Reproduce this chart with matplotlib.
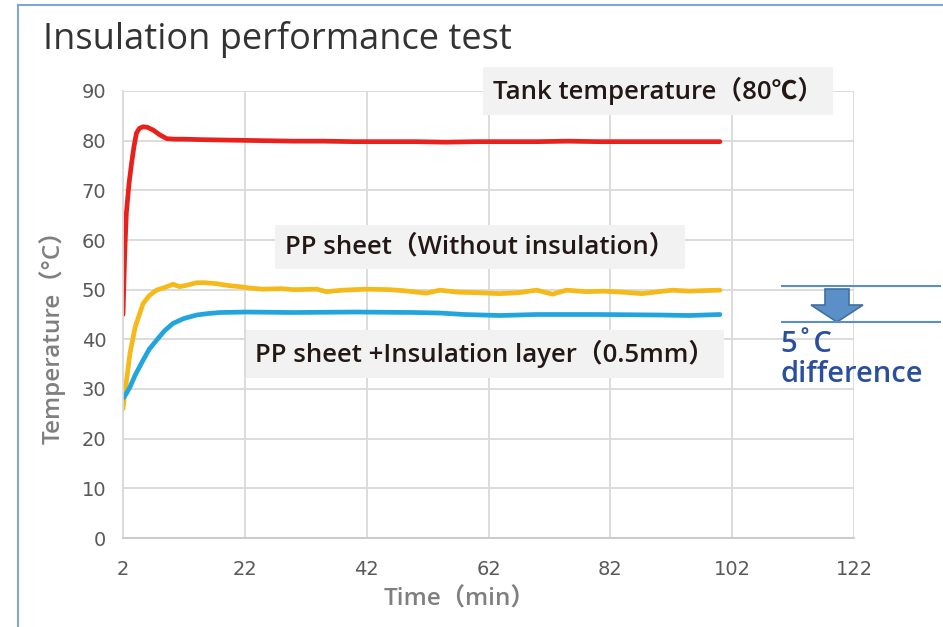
import matplotlib.pyplot as plt
from matplotlib.patches import Polygon
from matplotlib.lines import Line2D

# readings (minutes, deg C)
tank_t = [2, 2.3, 2.55, 3.0, 3.4, 3.8, 4.2, 4.7, 5.3, 6.0, 7.0, 8.0, 9.2, 10.5, 12, 15, 20,
          25, 30, 35, 40, 45, 50, 55, 60, 65, 70, 75, 80, 85, 90, 95, 100]
tank_v = [45, 58, 65.4, 71.5, 75.4, 78.8, 81.5, 82.5, 82.8, 82.7, 82.1, 81.2, 80.4, 80.3, 80.3, 80.2, 80.1,
          80.0, 79.9, 79.9, 79.8, 79.8, 79.8, 79.7, 79.8, 79.8, 79.8, 79.9, 79.8, 79.8, 79.8, 79.8, 79.8]

pp_t = [2, 2.5, 3.15, 4.0, 5.3, 6.3, 7.5, 9.0, 10.2, 11.3, 12.5, 14.1, 15.5, 17.4, 19.5, 21.2, 23,
        25, 28, 30, 33.8, 35.4, 38, 42, 45.8, 48, 51.8, 54, 57, 60, 63.8, 67, 69.9, 72.5, 74.8,
        78, 81, 84, 87.2, 90, 92.2, 95, 97, 100]
pp_v = [26, 31, 37.2, 42.5, 47.2, 48.8, 49.9, 50.5, 51.1, 50.6, 50.9, 51.4, 51.4, 51.2, 50.8, 50.6, 50.3,
        50.1, 50.2, 50.0, 50.1, 49.6, 49.9, 50.1, 50.0, 49.8, 49.3, 49.9, 49.5, 49.4, 49.2, 49.4, 49.9, 49.1, 49.9,
        49.6, 49.7, 49.5, 49.2, 49.6, 49.9, 49.7, 49.8, 49.9]

ins_t = [2, 2.5, 3.15, 4.0, 5.3, 6.3, 7.5, 8.8, 10.2, 12, 14.1, 16, 17.9, 22.3, 30, 40, 50, 54,
         58, 63.8, 70, 80, 90, 95, 100]
ins_v = [28.1, 29.0, 30.4, 32.8, 35.8, 38.0, 39.8, 41.7, 43.2, 44.2, 44.9, 45.2, 45.4, 45.5, 45.4, 45.5, 45.4, 45.3,
         45.0, 44.8, 45.0, 45.0, 44.9, 44.8, 45.0]

x_ticks = [2, 22, 42, 62, 82, 102, 122]
y_ticks = [0, 10, 20, 30, 40, 50, 60, 70, 80, 90]

W, H = 943, 627


def fx(x):
    return x / W


def fy(y):
    return 1 - y / H


label_font = ['Open Sans', 'Noto Sans CJK JP', 'DejaVu Sans']

fig = plt.figure(figsize=(W / 100, H / 100), dpi=100)
ax = fig.add_axes([fx(123), fy(538), fx(854) - fx(123), fy(91) - fy(538)])

ax.plot(tank_t, tank_v, color='#e8211c', lw=3.4, solid_capstyle='round')
ax.plot(pp_t, pp_v, color='#f5b91a', lw=3.4, solid_capstyle='round')
ax.plot(ins_t, ins_v, color='#22a5de', lw=3.4, solid_capstyle='round')

ax.set_xlim(2, 122)
ax.set_ylim(0, 90)
ax.set_xticks(x_ticks)
ax.set_yticks(y_ticks)
ax.grid(True, color='#d9d9d9', lw=1.3)
ax.set_axisbelow(True)
for s in ['top', 'right']:
    ax.spines[s].set_visible(False)
ax.spines['left'].set_color('#d9d9d9')
ax.spines['left'].set_linewidth(1.3)
ax.spines['bottom'].set_color('#c8c8c8')
ax.spines['bottom'].set_linewidth(1.3)
ax.tick_params(length=0, pad=12, labelsize=14, labelcolor='#595959')
ax.tick_params(axis='x', pad=16)

fig.text(fx(52), fy(331), 'Temperature（°C）', rotation=90, ha='center', va='center',
         fontsize=17.5, color='#7f7f7f', family=label_font, weight='semibold')
fig.text(fx(459), fy(600), 'Time（min）', ha='center', va='center',
         fontsize=17.5, color='#7f7f7f', family=label_font, weight='semibold')

fig.text(fx(43), fy(40), 'Insulation performance test', ha='left', va='center',
         fontsize=26, color='#333333', family=label_font)

box = dict(boxstyle='square,pad=0.38', fc='#f2f2f2', ec='none')
fig.text(fx(658), fy(91), 'Tank temperature（80℃）', ha='center', va='center',
         fontsize=18.5, color='#231815', family=label_font, weight='semibold', bbox=box)
fig.text(fx(480), fy(247), 'PP sheet（Without insulation）', ha='center', va='center',
         fontsize=18.5, color='#231815', family=label_font, weight='semibold', bbox=box)
fig.text(fx(485), fy(354), 'PP sheet +Insulation layer（0.5mm）', ha='center', va='center',
         fontsize=18.5, color='#231815', family=label_font, weight='semibold', bbox=box)

# 5 degree difference marker
for yy in (286, 322):
    fig.add_artist(Line2D([fx(782), fx(940)], [fy(yy), fy(yy)], color='#5b8ec9', lw=1.5,
                          transform=fig.transFigure))
arrow = [(825, 289), (849, 289), (849, 305), (863, 305), (837, 322), (811, 305), (825, 305)]
fig.add_artist(Polygon([(fx(a), fy(b)) for a, b in arrow], closed=True, fc='#5a8fc8',
                       ec='#41709f', lw=1.2, transform=fig.transFigure))
fig.text(fx(780), fy(345), '5˚C', ha='left', va='center', fontsize=21, color='#2a4f9e',
         family=label_font, weight='semibold')
fig.text(fx(780), fy(374), 'difference', ha='left', va='center', fontsize=21, color='#2a4f9e',
         family=label_font, weight='semibold')

# frame edges
fig.add_artist(Line2D([fx(18), fx(18)], [fy(5), 0], color='#7fa6d6', lw=1.5, transform=fig.transFigure))
fig.add_artist(Line2D([fx(18), 1], [fy(5), fy(5)], color='#7fa6d6', lw=1.5, transform=fig.transFigure))

fig.savefig('out.png', dpi=100, facecolor='white')
